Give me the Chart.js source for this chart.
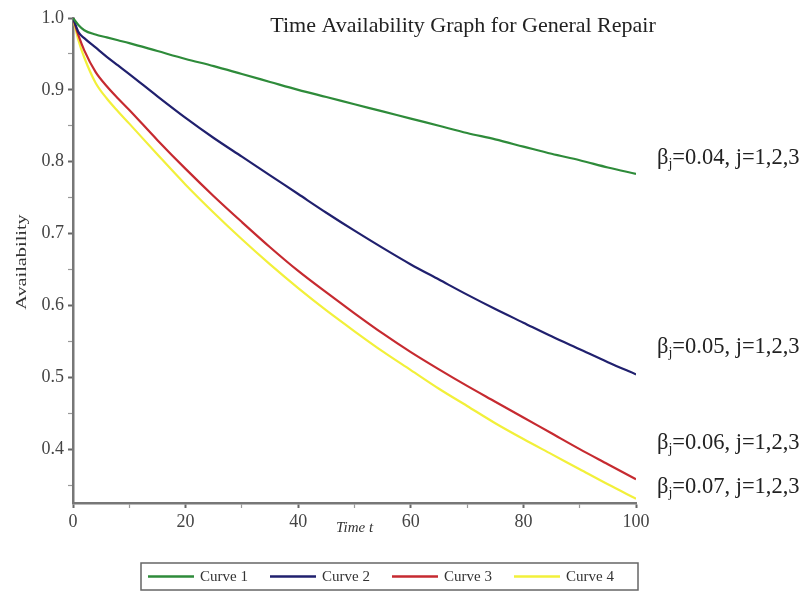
<!DOCTYPE html>
<html>
<head>
<meta charset="utf-8">
<script src="https://cdn.jsdelivr.net/npm/chart.js@4.4.1/dist/chart.umd.min.js"></script>
<style>
  html, body { margin: 0; padding: 0; background: #fff; }
  #wrap { width: 810px; height: 592px; position: relative; }
</style>
</head>
<body>
<div id="wrap"><canvas id="c" width="810" height="592"></canvas></div>
<script>
// ---- data ----
const timeT   = [0, 1, 2, 4, 6, 8, 10, 15, 20, 25, 30, 35, 40, 45, 50, 55, 60, 65, 70, 75, 80, 85, 90, 95, 100];
const curve1  = [1.0, 0.990, 0.983, 0.977, 0.973, 0.969, 0.965, 0.954, 0.943, 0.933, 0.922, 0.911, 0.900, 0.890, 0.880, 0.870, 0.860, 0.850, 0.840, 0.831, 0.821, 0.811, 0.802, 0.792, 0.783];
const curve2  = [1.0, 0.980, 0.972, 0.959, 0.946, 0.934, 0.922, 0.891, 0.861, 0.833, 0.807, 0.781, 0.755, 0.729, 0.704, 0.680, 0.657, 0.636, 0.615, 0.595, 0.576, 0.557, 0.539, 0.521, 0.504];
const curve3  = [1.0, 0.975, 0.955, 0.925, 0.905, 0.888, 0.872, 0.830, 0.790, 0.752, 0.716, 0.681, 0.648, 0.618, 0.589, 0.561, 0.535, 0.511, 0.488, 0.466, 0.444, 0.422, 0.400, 0.379, 0.358];
const curve4  = [1.0, 0.968, 0.945, 0.910, 0.888, 0.870, 0.853, 0.810, 0.768, 0.729, 0.692, 0.657, 0.624, 0.593, 0.564, 0.536, 0.510, 0.484, 0.460, 0.436, 0.414, 0.393, 0.372, 0.351, 0.331];
const seriesNames = ["Curve 1", "Curve 2", "Curve 3", "Curve 4"];
const betaLabels  = ["0.04", "0.05", "0.06", "0.07"];
const xTickValues = [0, 10, 20, 30, 40, 50, 60, 70, 80, 90, 100];
const xTickLabels = ["0", "", "20", "", "40", "", "60", "", "80", "", "100"];
const yTickValues = [0.35, 0.4, 0.45, 0.5, 0.55, 0.6, 0.65, 0.7, 0.75, 0.8, 0.85, 0.9, 0.95, 1.0];
const yTickLabels = ["", "0.4", "", "0.5", "", "0.6", "", "0.7", "", "0.8", "", "0.9", "", "1.0"];
const titleText = "Time Availability Graph for General Repair";

const colors = ["#2e8b3a", "#20206e", "#c62a30", "#f2f03a"];
const allSeries = [curve1, curve2, curve3, curve4];

const datasets = allSeries.map((s, i) => ({
  label: seriesNames[i],
  data: timeT.map((t, k) => ({ x: t, y: s[k] })),
  borderColor: colors[i],
  borderWidth: 2.2,
  pointRadius: 0,
  fill: false,
  cubicInterpolationMode: 'monotone'
}));

const SERIF = "'Liberation Serif', 'DejaVu Serif', serif";

const decor = {
  id: 'decor',
  afterDraw(chart) {
    const ctx = chart.ctx;
    const xs = chart.scales.x;
    ctx.save();
    // title
    ctx.fillStyle = '#222';
    ctx.font = "22px " + SERIF;
    ctx.textAlign = 'center';
    ctx.textBaseline = 'middle';
    ctx.fillText(titleText, 463, 26);

    // y axis title (stretched along its length like the reference)
    ctx.save();
    ctx.translate(22, 262);
    ctx.rotate(-Math.PI / 2);
    ctx.scale(1.45, 1);
    ctx.font = "14px " + SERIF;
    ctx.fillStyle = '#333';
    ctx.fillText("Availability", 0, 0);
    ctx.restore();

    // x axis title
    ctx.font = "italic 15px " + SERIF;
    ctx.fillStyle = '#333';
    ctx.textAlign = 'center';
    ctx.fillText("Time t", (xs.left + xs.right) / 2, 528);

    // beta annotations
    const ann = [ [657, 158], [657, 347], [657, 443], [657, 487] ];
    ann.forEach((p, i) => {
      let x = p[0];
      const y = p[1];
      ctx.textAlign = 'left';
      ctx.textBaseline = 'middle';
      ctx.fillStyle = '#222';
      ctx.font = "22.5px " + SERIF;
      ctx.fillText("\u03B2", x, y);
      x += ctx.measureText("\u03B2").width;
      ctx.font = "14px " + SERIF;
      ctx.fillText("j", x, y + 6);
      x += ctx.measureText("j").width;
      ctx.font = "22.5px " + SERIF;
      ctx.fillText("=" + betaLabels[i] + ", j=1,2,3", x, y);
    });

    // legend box
    const lx = 141, ly = 563, lw = 497, lh = 27;
    ctx.strokeStyle = '#666';
    ctx.lineWidth = 1.5;
    ctx.strokeRect(lx, ly, lw, lh);
    const cy = ly + lh / 2;
    const starts = [148, 270, 392, 514];
    ctx.font = "15px " + SERIF;
    ctx.textBaseline = 'middle';
    starts.forEach((sx, i) => {
      ctx.strokeStyle = colors[i];
      ctx.lineWidth = 2.5;
      ctx.beginPath();
      ctx.moveTo(sx, cy);
      ctx.lineTo(sx + 46, cy);
      ctx.stroke();
      ctx.fillStyle = '#333';
      ctx.textAlign = 'left';
      ctx.fillText(seriesNames[i], sx + 52, cy + 1);
    });
    ctx.restore();
  }
};

const isMajorX = (v) => { const i = xTickValues.indexOf(v); return i >= 0 && xTickLabels[i] !== ''; };
const isMajorY = (v) => { const i = yTickValues.findIndex(t => Math.abs(t - v) < 1e-9); return i >= 0 && yTickLabels[i] !== ''; };

new Chart(document.getElementById('c'), {
  type: 'line',
  data: { datasets },
  options: {
    responsive: false,
    animation: false,
    layout: { padding: { top: 18, right: 174, bottom: 0, left: 0 } },
    plugins: { legend: { display: false }, tooltip: { enabled: false }, title: { display: false } },
    scales: {
      x: {
        type: 'linear',
        min: 0, max: 100,
        afterBuildTicks: (s) => { s.ticks = xTickValues.map(v => ({ value: v })); },
        afterFit: (s) => { s.height = 89; },
        grid: {
          display: true, drawOnChartArea: false, drawTicks: true, tickLength: 5,
          tickColor: (c) => (c.tick && isMajorX(c.tick.value)) ? '#666' : '#999',
          tickWidth: (c) => (c.tick && isMajorX(c.tick.value)) ? 2 : 1.2
        },
        border: { display: true, color: '#777', width: 2.5 },
        ticks: {
          autoSkip: false, maxRotation: 0, padding: 3,
          color: '#444',
          font: { family: SERIF, size: 18 },
          callback: (v) => { const i = xTickValues.indexOf(v); return i >= 0 ? xTickLabels[i] : ''; }
        }
      },
      y: {
        type: 'linear',
        min: 0.325, max: 1.0,
        afterBuildTicks: (s) => { s.ticks = yTickValues.map(v => ({ value: v })); },
        afterFit: (s) => { s.width = 73; },
        grid: {
          display: true, drawOnChartArea: false, drawTicks: true, tickLength: 5,
          tickColor: (c) => (c.tick && isMajorY(c.tick.value)) ? '#666' : '#999',
          tickWidth: (c) => (c.tick && isMajorY(c.tick.value)) ? 2 : 1.2
        },
        border: { display: true, color: '#777', width: 2.5 },
        ticks: {
          autoSkip: false, padding: 4,
          color: '#444',
          font: { family: SERIF, size: 18 },
          callback: (v) => { const i = yTickValues.findIndex(t => Math.abs(t - v) < 1e-9); return i >= 0 ? yTickLabels[i] : ''; }
        }
      }
    }
  },
  plugins: [decor]
});
</script>
</body>
</html>
